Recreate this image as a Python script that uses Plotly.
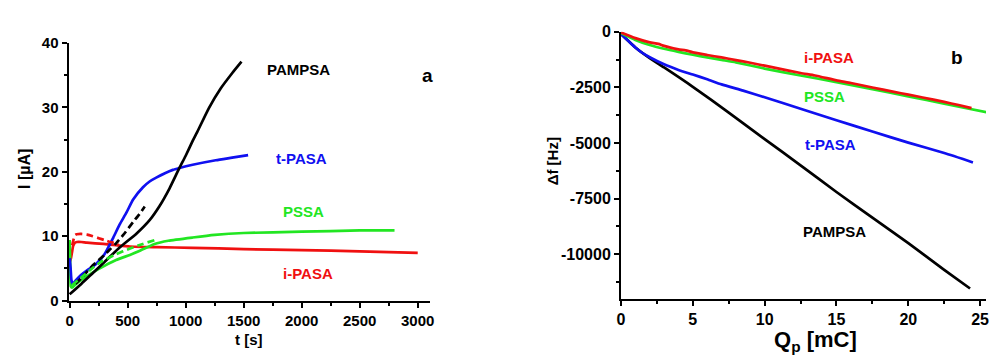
import plotly.graph_objects as go

# ---------------- Panel a: current transients I(t) ----------------
t_pampsa = [0, 100, 200, 300, 433, 575, 689, 775, 860, 946, 1000, 1060, 1100, 1200, 1300, 1400, 1481]
i_pampsa = [1.0, 2.6, 4.3, 6.0, 8.3, 10.4, 12.5, 14.7, 17.4, 20.6, 22.5, 24.8, 26.2, 29.9, 32.9, 35.3, 37.1]

t_tpasa = [0, 8, 15, 25, 50, 100, 150, 200, 234, 300, 376, 430, 490, 547, 632, 689, 746, 889, 946, 1060, 1259, 1400, 1538]
i_tpasa = [6.6, 5.0, 3.2, 2.6, 3.1, 4.0, 4.7, 5.3, 5.8, 7.2, 9.8, 11.8, 13.7, 15.7, 17.6, 18.5, 19.1, 20.3, 20.6, 21.1, 21.8, 22.2, 22.6]

t_pssa = [0, 5, 10, 20, 50, 100, 200, 300, 400, 519, 600, 732, 850, 1060, 1250, 1500, 2000, 2500, 2800]
i_pssa = [9.4, 5.0, 2.2, 2.0, 2.5, 3.2, 4.4, 5.4, 6.3, 7.1, 7.7, 8.8, 9.3, 9.8, 10.2, 10.5, 10.7, 10.9, 10.9]

t_ipasa = [0, 10, 20, 30, 45, 62, 100, 148, 291, 400, 519, 750, 1060, 1500, 2000, 2500, 3000]
i_ipasa = [6.0, 6.5, 7.5, 8.5, 9.0, 9.1, 9.1, 9.0, 8.8, 8.6, 8.4, 8.3, 8.2, 8.0, 7.85, 7.65, 7.4]

# fitted model curves (dashed)
t_ipasa_fit = [22, 35, 48, 60, 100, 150, 200, 250, 300, 350, 420]
i_ipasa_fit = [8.6, 9.6, 10.2, 10.3, 10.35, 10.25, 10.0, 9.7, 9.4, 9.1, 8.8]

t_pampsa_fit = [50, 100, 150, 200, 250, 300, 350, 400, 462, 547, 600, 647]
i_pampsa_fit = [2.6, 3.5, 4.5, 5.5, 6.3, 7.1, 8.0, 8.9, 10.2, 12.2, 13.4, 14.6]

t_pssa_fit = [20, 100, 200, 276, 400, 520, 630, 732]
i_pssa_fit = [2.4, 3.6, 5.1, 6.1, 7.2, 8.1, 8.8, 9.4]

# ---------------- Panel b: frequency change vs. charge ----------------
q_pampsa = [0, 1, 2, 3, 5, 7.5, 10, 12.5, 15, 17.5, 20, 22.5, 24.3]
f_pampsa = [-100, -700, -1180, -1600, -2470, -3630, -4820, -6000, -7200, -8350, -9500, -10700, -11540]

q_tpasa = [0, 0.5, 1, 1.5, 2, 3, 4, 5, 6, 7, 8.5, 10, 12.5, 15, 17.5, 20, 22.5, 24.5]
f_tpasa = [-100, -400, -700, -950, -1140, -1460, -1710, -1920, -2130, -2360, -2640, -2940, -3460, -3970, -4480, -4980, -5450, -5870]

q_pssa = [0, 1, 2, 3, 4, 5, 6, 7, 8, 10, 12.5, 15, 17.5, 20, 22.5, 25.5]
f_pssa = [-50, -360, -590, -760, -900, -1030, -1150, -1260, -1370, -1650, -1960, -2260, -2580, -2900, -3230, -3620]

q_ipasa = [0, 1, 2, 2.6, 3, 4, 4.5, 5, 6, 7, 8, 9, 10, 11, 12.5, 13.5, 15, 16, 17.5, 19, 20, 21, 22.5, 23.5, 24.4]
f_ipasa = [-30, -280, -470, -540, -630, -790, -830, -920, -1040, -1150, -1270, -1390, -1520, -1650, -1850, -1960, -2180, -2300, -2500, -2700, -2820, -2950, -3150, -3290, -3430]

# tick values / labels
a_xticks = [0, 500, 1000, 1500, 2000, 2500, 3000]
a_yticks = [0, 10, 20, 30, 40]
b_xticks = [0, 5, 10, 15, 20, 25]
b_yticks = [0, -2500, -5000, -7500, -10000]
b_ylabels = ["0", "-2500", "-5000", "-7500", "-10000"]

BLACK = "#000000"
BLUE = "#1010f0"
GREEN = "#22e622"
RED = "#f01010"
FONT = "Liberation Sans, Arial, sans-serif"
LW = 2.7

fig = go.Figure()

def line(x, y, color, xa, ya, dash="solid"):
    fig.add_trace(go.Scatter(
        x=x, y=y, mode="lines", xaxis=xa, yaxis=ya,
        line=dict(color=color, width=LW, dash=dash, shape="spline", smoothing=0.5),
        showlegend=False, hoverinfo="skip", cliponaxis=True,
    ))

# panel a
line(t_ipasa, i_ipasa, RED, "x", "y")
line(t_pssa, i_pssa, GREEN, "x", "y")
line(t_tpasa, i_tpasa, BLUE, "x", "y")
line(t_pampsa, i_pampsa, BLACK, "x", "y")
line(t_ipasa_fit, i_ipasa_fit, RED, "x", "y", dash="7px,4px")
line(t_pampsa_fit, i_pampsa_fit, BLACK, "x", "y", dash="7px,4px")
line(t_pssa_fit, i_pssa_fit, GREEN, "x", "y", dash="7px,4px")

# panel b
line(q_pampsa, f_pampsa, BLACK, "x2", "y2")
line(q_tpasa, f_tpasa, BLUE, "x2", "y2")
line(q_pssa, f_pssa, GREEN, "x2", "y2")
line(q_ipasa, f_ipasa, RED, "x2", "y2")

tickfont_a = dict(family=FONT, size=15, color="black", weight="bold")
tickfont_b = dict(family=FONT, size=16, color="black", weight="bold")

def axis(domain, rng, tickvals, minor_dtick, font, anchor, ticktext=None):
    d = dict(
        domain=domain, range=rng, anchor=anchor,
        showline=True, linecolor="black", linewidth=2,
        showgrid=False, zeroline=False,
        ticks="outside", ticklen=5, tickwidth=2, tickcolor="black",
        tickvals=tickvals, tickfont=font, ticklabeloverflow="allow",
        minor=dict(ticks="outside", ticklen=3, tickwidth=1.5, tickcolor="black",
                   dtick=minor_dtick, showgrid=False),
        fixedrange=True,
    )
    if ticktext is not None:
        d["ticktext"] = ticktext
    return d

fig.update_layout(
    width=990, height=362,
    margin=dict(l=0, r=0, t=0, b=0),
    paper_bgcolor="white", plot_bgcolor="white",
    xaxis=axis([0.0657, 0.4343], [-10, 3110], a_xticks, 250, tickfont_a, "y"),
    yaxis=axis([0.1547, 0.9014], [0, 40], a_yticks, 5, tickfont_a, "x"),
    xaxis2=axis([0.6283, 1.0], [0, 25.41], b_xticks, 2.5, tickfont_b, "y2"),
    yaxis2=axis([0.1602, 0.9337], [-12000, 0], b_yticks, 1250, tickfont_b, "x2", b_ylabels),
)

def label(text, x, y, color, size, xref="x", yref="y", angle=0, bold=True):
    fig.add_annotation(
        text=text, x=x, y=y, xref=xref, yref=yref, showarrow=False,
        textangle=angle, xanchor="center", yanchor="middle",
        font=dict(family=FONT, size=size, color=color, weight="bold" if bold else "normal"),
    )

# curve labels, panel a
label("PAMPSA", 1972, 35.9, BLACK, 15)
label("t-PASA", 2000, 22.0, BLUE, 15)
label("PSSA", 2015, 13.9, GREEN, 15)
label("i-PASA", 2057, 4.2, RED, 15)
label("a", 3088, 35.0, BLACK, 19)

# curve labels, panel b
label("i-PASA", 14.48, -1144, RED, 15, "x2", "y2")
label("PSSA", 14.14, -2902, GREEN, 15, "x2", "y2")
label("t-PASA", 14.59, -5045, BLUE, 15, "x2", "y2")
label("PAMPSA", 14.83, -8971, BLACK, 15, "x2", "y2")
label("b", 23.41, -1144, BLACK, 19, "x2", "y2")

# axis titles
label("t [s]", 0.2492, 0.0423, BLACK, 15, "paper", "paper")
label("I [µA]", 0.0202, 0.536, BLACK, 16, "paper", "paper", angle=-90)
label("Δf [Hz]", 0.5589, 0.558, BLACK, 15, "paper", "paper", angle=-90)
label("Q<sub>p</sub> [mC]", 0.8266, 0.0378, BLACK, 22, "paper", "paper")

fig.write_html("out.html")
